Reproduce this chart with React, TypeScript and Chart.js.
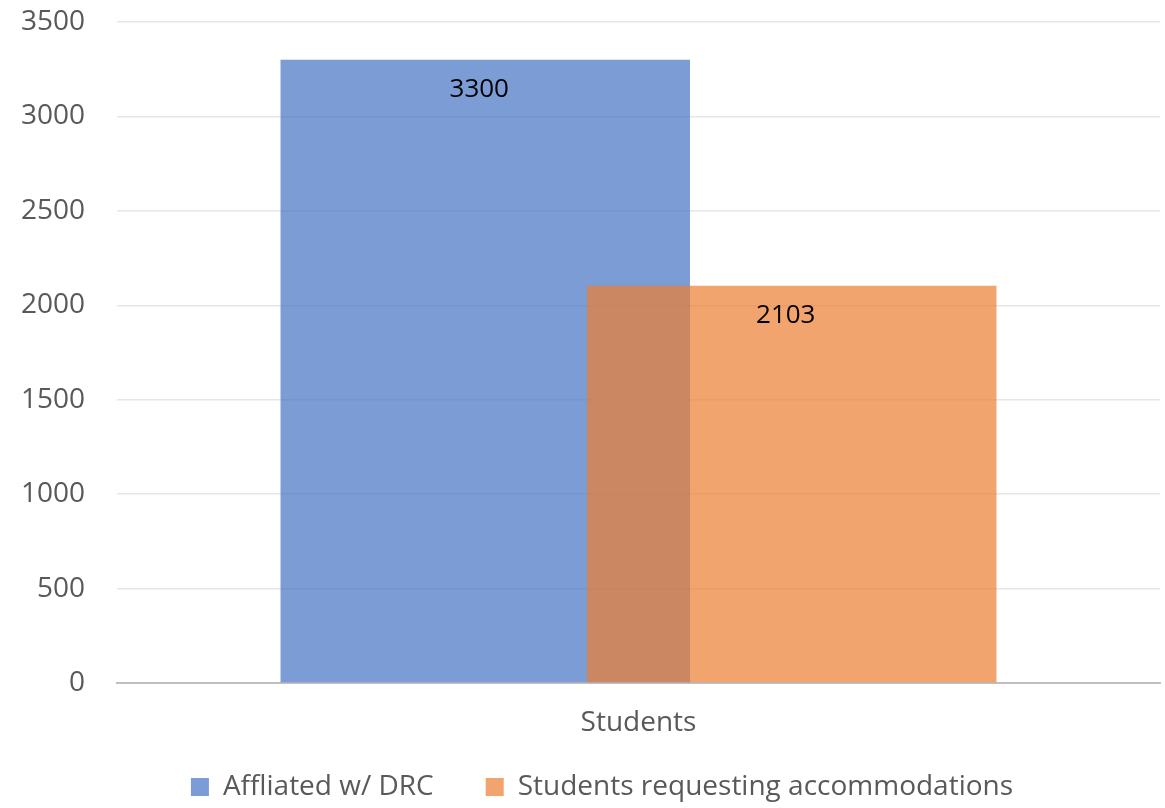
import React, { useEffect, useRef } from "react";
import { Chart, registerables } from "chart.js";

Chart.register(...registerables);

const categories = ["Students"];
const affiliatedValues = [3300];
const requestingValues = [2103];
const seriesLabels = ["Affliated w/ DRC", "Students requesting accommodations"];
const yTicks = [0, 500, 1000, 1500, 2000, 2500, 3000, 3500];

const FONT = "'Open Sans', 'Liberation Sans', sans-serif";
const TEXT = "#595959";

// draw the second series over the first (overlapping, semi-transparent bars)
const drawOrderPlugin = {
  id: "drawOrder",
  beforeDatasetsDraw(chart: any) {
    [0, 1].forEach((i) => {
      const meta = chart.getDatasetMeta(i);
      if (meta && meta.visible !== false) meta.controller.draw();
    });
    return false;
  },
};

// place the legend row like the original (slightly right of centre, closer to the axis label)
const legendPlacePlugin = {
  id: "legendPlace",
  afterLayout(chart: any) {
    const lg = chart.legend;
    if (!lg) return;
    lg.left = 44;
    lg.top = lg.top - 22;
  },
};

const dataLabelPlugin = {
  id: "dataLabels",
  afterDraw(chart: any) {
    const ctx = chart.ctx;
    ctx.save();
    ctx.fillStyle = "#000000";
    ctx.font = `26px ${FONT}`;
    ctx.textAlign = "center";
    ctx.textBaseline = "middle";
    [0, 1].forEach((di) => {
      const meta = chart.getDatasetMeta(di);
      const ds = chart.data.datasets[di];
      meta.data.forEach((el: any, i: number) => {
        const v = ds.data[i];
        if (v == null) return;
        ctx.fillText(String(v), el.x - 6, el.y + 30);
      });
    });
    ctx.restore();
  },
};

export default function App() {
  const ref = useRef<HTMLCanvasElement | null>(null);
  useEffect(() => {
    if (!ref.current) return;
    const chart = new Chart(ref.current, {
      type: "bar",
      data: {
        labels: categories,
        datasets: [
          {
            label: seriesLabels[0],
            data: affiliatedValues,
            backgroundColor: "rgba(68,114,196,0.7)",
          },
          {
            label: seriesLabels[1],
            data: requestingValues,
            backgroundColor: "rgba(237,125,49,0.7)",
          },
        ],
      },
      options: {
        animation: false,
        responsive: true,
        maintainAspectRatio: false,
        categoryPercentage: 0.5877,
        barPercentage: 1.336,
        layout: { padding: { top: 22, right: 5, left: 0, bottom: -25 } },
        plugins: {
          legend: {
            position: "bottom",
            labels: {
              font: { family: FONT, size: 28 },
              color: TEXT,
              boxWidth: 18,
              boxHeight: 18,
              padding: 52,
            },
          },
          tooltip: { enabled: false },
        },
        scales: {
          x: {
            type: "category",
            grid: { display: false, drawTicks: false },
            border: { display: true, color: "#BFBFBF", width: 2 },
            ticks: { color: TEXT, font: { family: FONT, size: 28 }, padding: 23 },
            afterFit: (s: any) => {
              s.height = 60;
            },
          },
          y: {
            min: 0,
            max: 3500,
            afterBuildTicks: (s: any) => {
              s.ticks = yTicks.map((v) => ({ value: v }));
            },
            grid: { color: "#E6E6E6", lineWidth: 1.5, drawTicks: false },
            border: { display: false },
            ticks: {
              color: TEXT,
              font: { family: FONT, size: 28 },
              padding: 32,
              callback: (v: any) => String(v),
            },
            afterFit: (s: any) => {
              s.width = 117;
              s.paddingTop = 0;
              s.paddingBottom = 0;
            },
          },
        },
      },
      plugins: [drawOrderPlugin, legendPlacePlugin, dataLabelPlugin],
    });
    return () => chart.destroy();
  }, []);
  return (
    <div style={{ position: "fixed", left: 0, top: 0, width: 1165, height: 808, background: "#fff" }}>
      <canvas ref={ref} />
    </div>
  );
}
